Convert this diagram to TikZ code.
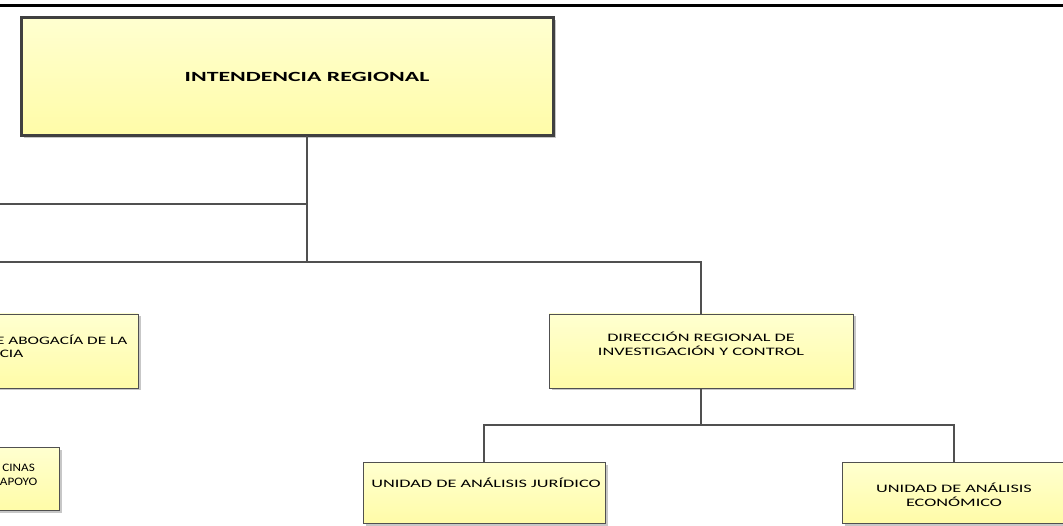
\documentclass[tikz,border=0pt]{standalone}
\usepackage{fontspec}
\setmainfont{Carlito}[FakeStretch=1.6, BoldFeatures={FakeStretch=1.7}]
\usetikzlibrary{shadows,calc}
\definecolor{boxline}{HTML}{505050}
\definecolor{topline}{HTML}{404040}
\definecolor{ytop}{RGB}{255,255,208}
\definecolor{ybot}{RGB}{255,252,168}
\tikzset{
  orgbox/.style={draw=boxline, line width=0.9pt, top color=ytop, bottom color=ybot,
    drop shadow={shadow xshift=2.5pt, shadow yshift=-2.5pt, fill=black!22, opacity=1},
    inner sep=0pt, rectangle},
  mainbox/.style={orgbox, draw=topline, line width=3pt},
  lbl/.style={inner sep=0pt, font=\fontsize{11.4}{14}\selectfont, align=center, text=black},
  ttl/.style={inner sep=0pt, font=\fontsize{14}{17}\selectfont\bfseries, text=black},
  conn/.style={draw=boxline, line width=1.4pt}
}
\begin{document}
\begin{tikzpicture}[x=1pt,y=-1pt]
\useasboundingbox (0,0) rectangle (1063,526);
\clip (0,0) rectangle (1063,526);
\fill[white] (0,0) rectangle (1063,526);
% top rule
\draw[line width=3pt, black] (0,5.5) -- (1063,5.5);
% boxes
\node[mainbox, minimum width=532pt, minimum height=118pt] (ir) at (287,77) {};
\node[ttl] (irt) at (307,77) {INTENDENCIA REGIONAL};
\node[orgbox, minimum width=304pt, minimum height=74pt] (dric) at (701,351) {};
\node[lbl] (drict) at (701,344) {DIRECCIÓN REGIONAL DE\\INVESTIGACIÓN Y CONTROL};
\node[orgbox, minimum width=242pt, minimum height=61pt] (uaj) at (484,492.5) {};
\node[lbl] (uajt) at (486,483) {UNIDAD DE ANÁLISIS JURÍDICO};
\node[orgbox, minimum width=224pt, minimum height=61pt] (uae) at (954,492.5) {};
\node[lbl] (uaet) at (954,494.5) {UNIDAD DE ANÁLISIS\\ECONÓMICO};
\node[orgbox, minimum width=304pt, minimum height=74pt] (dab) at (-14,351) {};
\node[lbl, anchor=east] (dabt1) at (127.5,340) {\scalebox{0.944}[1]{E ABOGACÍA DE LA}};
\node[lbl, anchor=east] (dabt2) at (23.5,354) {\scalebox{0.944}[1]{CIA}};
\node[orgbox, minimum width=242pt, minimum height=63pt] (ofi) at (-62,478.5) {};
\node[lbl, anchor=east] (ofit1) at (35,468) {\scalebox{0.72}[1]{CINAS}};
\node[lbl, anchor=east] (ofit2) at (37.5,481.5) {\scalebox{0.72}[1]{APOYO}};
% connector coordinates
\coordinate (irb) at (307,136);
\coordinate (j1) at (307,262);
\coordinate (jm) at (307,204);
\coordinate (l1) at (-5,204);
\coordinate (l2) at (-5,262);
\coordinate (j2) at (701,425);
% connectors
\draw[conn] (irb) -- (j1);
\draw[conn] (jm) -- (l1);
\draw[conn] (l2) -- (j1) -| (dric.north);
\draw[conn] (dric.south) -- (j2);
\draw[conn] (uaj.north) |- (j2) -| (uae.north);
\end{tikzpicture}
\end{document}
